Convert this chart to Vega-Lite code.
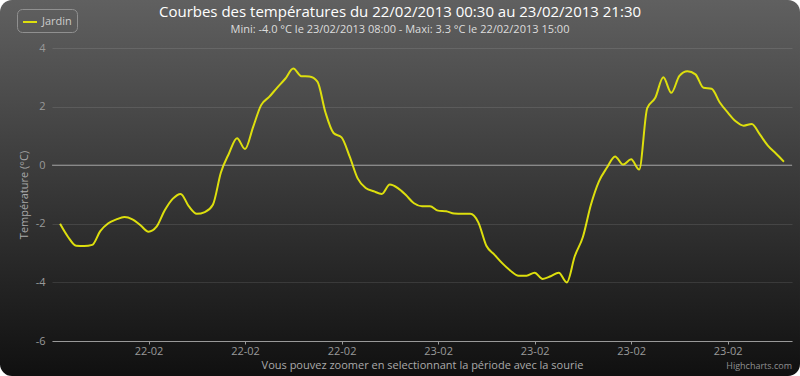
{
  "$schema": "https://vega.github.io/schema/vega-lite/v6.json",
  "width": 740,
  "height": 293,
  "autosize": {"type": "none"},
  "padding": {"left": 52, "top": 48, "right": 8, "bottom": 35},
  "background": "#ffffff",
  "config": {
    "view": {"stroke": null},
    "font": "Open Sans"
  },
  "title": {
    "text": "Courbes des températures du 22/02/2013 00:30 au 23/02/2013 21:30",
    "subtitle": "Mini: -4.0 °C le 23/02/2013 08:00 - Maxi: 3.3 °C le 22/02/2013 15:00",
    "anchor": "middle",
    "frame": "group",
    "offset": 0,
    "dx": -22,
    "dy": 35,
    "font": "Open Sans",
    "fontSize": 15,
    "fontWeight": "normal",
    "color": "#FFFFFF",
    "subtitleFont": "Open Sans",
    "subtitleFontSize": 11,
    "subtitleColor": "#DDDDDD",
    "subtitlePadding": 4
  },
  "data": {
    "values": [
      {"t": "2013-02-22T00:30", "temp": -2.0},
      {"t": "2013-02-22T01:00", "temp": -2.45},
      {"t": "2013-02-22T01:30", "temp": -2.75},
      {"t": "2013-02-22T02:00", "temp": -2.76},
      {"t": "2013-02-22T02:30", "temp": -2.72},
      {"t": "2013-02-22T03:00", "temp": -2.25},
      {"t": "2013-02-22T03:30", "temp": -1.98},
      {"t": "2013-02-22T04:00", "temp": -1.85},
      {"t": "2013-02-22T04:30", "temp": -1.77},
      {"t": "2013-02-22T05:00", "temp": -1.85},
      {"t": "2013-02-22T05:30", "temp": -2.05},
      {"t": "2013-02-22T06:00", "temp": -2.27},
      {"t": "2013-02-22T06:30", "temp": -2.1},
      {"t": "2013-02-22T07:00", "temp": -1.55},
      {"t": "2013-02-22T07:30", "temp": -1.15},
      {"t": "2013-02-22T08:00", "temp": -0.98},
      {"t": "2013-02-22T08:30", "temp": -1.4},
      {"t": "2013-02-22T09:00", "temp": -1.66},
      {"t": "2013-02-22T09:30", "temp": -1.6},
      {"t": "2013-02-22T10:00", "temp": -1.35},
      {"t": "2013-02-22T10:30", "temp": -0.25},
      {"t": "2013-02-22T11:00", "temp": 0.4},
      {"t": "2013-02-22T11:30", "temp": 0.92},
      {"t": "2013-02-22T12:00", "temp": 0.55},
      {"t": "2013-02-22T12:30", "temp": 1.3},
      {"t": "2013-02-22T13:00", "temp": 2.05},
      {"t": "2013-02-22T13:30", "temp": 2.33},
      {"t": "2013-02-22T14:00", "temp": 2.65},
      {"t": "2013-02-22T14:30", "temp": 2.95},
      {"t": "2013-02-22T15:00", "temp": 3.3},
      {"t": "2013-02-22T15:30", "temp": 3.04},
      {"t": "2013-02-22T16:00", "temp": 3.03},
      {"t": "2013-02-22T16:30", "temp": 2.85},
      {"t": "2013-02-22T17:00", "temp": 1.8},
      {"t": "2013-02-22T17:30", "temp": 1.1},
      {"t": "2013-02-22T18:00", "temp": 0.95},
      {"t": "2013-02-22T18:30", "temp": 0.3},
      {"t": "2013-02-22T19:00", "temp": -0.45},
      {"t": "2013-02-22T19:30", "temp": -0.78},
      {"t": "2013-02-22T20:00", "temp": -0.89},
      {"t": "2013-02-22T20:30", "temp": -0.98},
      {"t": "2013-02-22T21:00", "temp": -0.66},
      {"t": "2013-02-22T21:30", "temp": -0.78},
      {"t": "2013-02-22T22:00", "temp": -1.02},
      {"t": "2013-02-22T22:30", "temp": -1.3},
      {"t": "2013-02-22T23:00", "temp": -1.4},
      {"t": "2013-02-22T23:30", "temp": -1.4},
      {"t": "2013-02-23T00:00", "temp": -1.55},
      {"t": "2013-02-23T00:30", "temp": -1.57},
      {"t": "2013-02-23T01:00", "temp": -1.65},
      {"t": "2013-02-23T01:30", "temp": -1.66},
      {"t": "2013-02-23T02:00", "temp": -1.66},
      {"t": "2013-02-23T02:30", "temp": -1.95},
      {"t": "2013-02-23T03:00", "temp": -2.75},
      {"t": "2013-02-23T03:30", "temp": -3.05},
      {"t": "2013-02-23T04:00", "temp": -3.35},
      {"t": "2013-02-23T04:30", "temp": -3.6},
      {"t": "2013-02-23T05:00", "temp": -3.77},
      {"t": "2013-02-23T05:30", "temp": -3.77},
      {"t": "2013-02-23T06:00", "temp": -3.67},
      {"t": "2013-02-23T06:30", "temp": -3.88},
      {"t": "2013-02-23T07:00", "temp": -3.79},
      {"t": "2013-02-23T07:30", "temp": -3.67},
      {"t": "2013-02-23T08:00", "temp": -4.0},
      {"t": "2013-02-23T08:30", "temp": -3.1},
      {"t": "2013-02-23T09:00", "temp": -2.45},
      {"t": "2013-02-23T09:30", "temp": -1.35},
      {"t": "2013-02-23T10:00", "temp": -0.55},
      {"t": "2013-02-23T10:30", "temp": -0.08},
      {"t": "2013-02-23T11:00", "temp": 0.3},
      {"t": "2013-02-23T11:30", "temp": 0.02},
      {"t": "2013-02-23T12:00", "temp": 0.2},
      {"t": "2013-02-23T12:30", "temp": -0.15},
      {"t": "2013-02-23T13:00", "temp": 1.95},
      {"t": "2013-02-23T13:30", "temp": 2.3},
      {"t": "2013-02-23T14:00", "temp": 3.0},
      {"t": "2013-02-23T14:30", "temp": 2.47},
      {"t": "2013-02-23T15:00", "temp": 3.05},
      {"t": "2013-02-23T15:30", "temp": 3.21},
      {"t": "2013-02-23T16:00", "temp": 3.1},
      {"t": "2013-02-23T16:30", "temp": 2.64},
      {"t": "2013-02-23T17:00", "temp": 2.61},
      {"t": "2013-02-23T17:30", "temp": 2.15},
      {"t": "2013-02-23T18:00", "temp": 1.8},
      {"t": "2013-02-23T18:30", "temp": 1.5},
      {"t": "2013-02-23T19:00", "temp": 1.35},
      {"t": "2013-02-23T19:30", "temp": 1.41},
      {"t": "2013-02-23T20:00", "temp": 1.05},
      {"t": "2013-02-23T20:30", "temp": 0.67},
      {"t": "2013-02-23T21:00", "temp": 0.4},
      {"t": "2013-02-23T21:30", "temp": 0.12}
    ]
  },
  "layer": [
    {
      "data": {"values": [{}]},
      "mark": {
        "type": "rect",
        "cornerRadius": 12,
        "color": {
          "gradient": "linear",
          "x1": 0, "y1": 0, "x2": 0, "y2": 1,
          "stops": [
            {"offset": 0, "color": "rgb(96,96,96)"},
            {"offset": 1, "color": "rgb(16,16,16)"}
          ]
        }
      },
      "encoding": {
        "x": {"datum": {"year": 2013, "month": 2, "date": 21, "hours": 20, "minutes": 46, "seconds": 3}, "type": "temporal"},
        "x2": {"datum": {"year": 2013, "month": 2, "date": 23, "hours": 22, "minutes": 29, "seconds": 50}},
        "y": {"datum": 5.6382, "type": "quantitative"},
        "y2": {"datum": -7.1945}
      }
    },
    {
      "data": {"values": [{}]},
      "mark": {"type": "rule", "color": "#999999", "strokeWidth": 1},
      "encoding": {
        "y": {"datum": 0, "type": "quantitative"}
      }
    },
    {
      "mark": {"type": "line", "interpolate": "monotone", "strokeWidth": 2},
      "encoding": {
        "x": {
          "field": "t",
          "type": "temporal",
          "title": "Vous pouvez zoomer en selectionnant la période avec la sourie",
          "scale": {
            "domain": [
              {"year": 2013, "month": 2, "date": 22, "hours": 0},
              {"year": 2013, "month": 2, "date": 23, "hours": 22}
            ],
            "nice": false
          },
          "axis": {
            "zindex": 2,
            "values": [
              {"year": 2013, "month": 2, "date": 22, "hours": 6},
              {"year": 2013, "month": 2, "date": 22, "hours": 12},
              {"year": 2013, "month": 2, "date": 22, "hours": 18},
              {"year": 2013, "month": 2, "date": 23, "hours": 0},
              {"year": 2013, "month": 2, "date": 23, "hours": 6},
              {"year": 2013, "month": 2, "date": 23, "hours": 12},
              {"year": 2013, "month": 2, "date": 23, "hours": 18}
            ],
            "format": "%d-%m",
            "grid": false,
            "domainColor": "#999999",
            "tickColor": "#999999",
            "tickSize": 3,
            "labelColor": "#999999",
            "labelFontSize": 11,
            "labelPadding": 1,
            "labelFlush": false,
            "titleColor": "#AAAAAA",
            "titleFontSize": 11,
            "titleFontWeight": "normal",
            "titlePadding": 3
          }
        },
        "y": {
          "field": "temp",
          "type": "quantitative",
          "title": "Température (°C)",
          "scale": {"domain": [-6, 4], "nice": false, "zero": false},
          "axis": {
            "zindex": 2,
            "values": [-6, -4, -2, 0, 2, 4],
            "labelExpr": "datum.value < 0 ? '-' + abs(datum.value) : '' + datum.value",
            "grid": true,
            "gridColor": "#ffffff",
            "gridOpacity": 0.1,
            "domain": false,
            "ticks": false,
            "labelColor": "#999999",
            "labelFontSize": 11,
            "labelPadding": 7,
            "titleColor": "#AAAAAA",
            "titleFontSize": 11,
            "titleFontWeight": "normal",
            "titlePadding": 6
          }
        },
        "color": {
          "datum": "Jardin",
          "type": "nominal",
          "scale": {"range": ["#DDDF0D"]},
          "legend": {
            "orient": "none",
            "legendX": -35,
            "legendY": -39,
            "title": null,
            "strokeColor": "#909090",
            "cornerRadius": 5,
            "padding": 5,
            "symbolType": "stroke",
            "symbolSize": 196,
            "symbolStrokeWidth": 2,
            "symbolStrokeColor": "#DDDF0D",
            "labelColor": "#CCCCCC",
            "labelFontSize": 11,
            "labelFont": "Open Sans",
            "labelOffset": 4
          }
        }
      }
    },
    {
      "data": {"values": [{}]},
      "mark": {"type": "text", "text": "Highcharts.com", "align": "right", "baseline": "middle", "fontSize": 9, "color": "#909090"},
      "encoding": {
        "x": {"datum": {"year": 2013, "month": 2, "date": 23, "hours": 22}, "type": "temporal"},
        "y": {"datum": -6.86, "type": "quantitative"}
      }
    }
  ]
}
